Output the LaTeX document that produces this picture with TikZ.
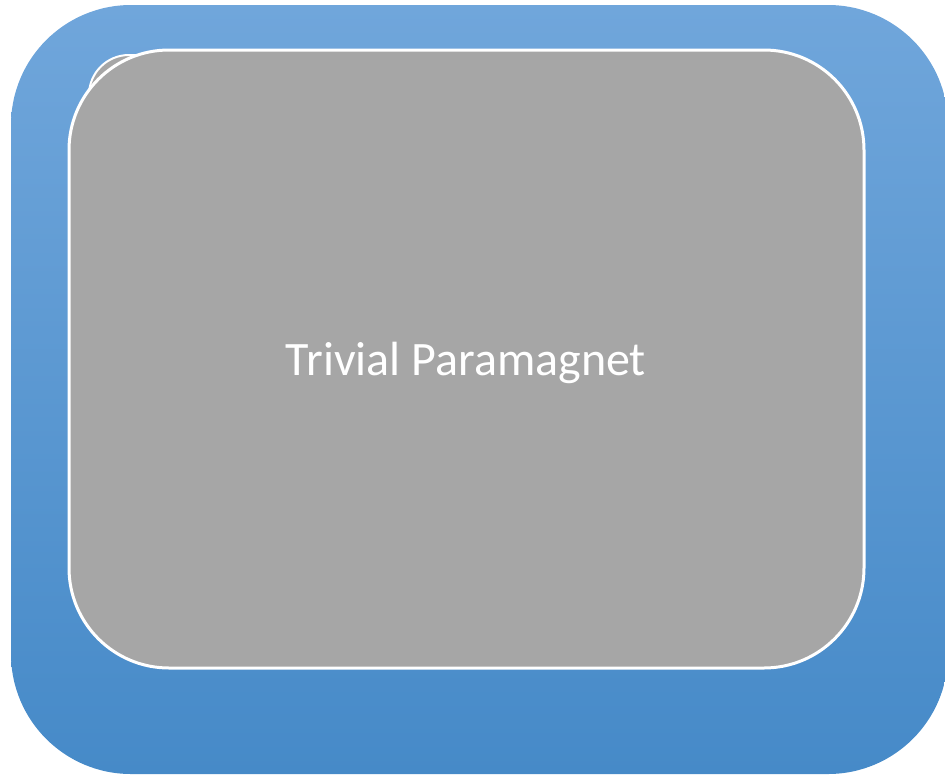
\documentclass[tikz,border=0pt]{standalone}
\usepackage{fontspec}
\setmainfont{Carlito}
\begin{document}
\begin{tikzpicture}[x=1pt,y=-1pt,
  outerbox/.style={rounded corners=120pt, top color=topblue, bottom color=botblue, draw=none},
  innerbox/.style={rounded corners=100pt, fill=boxgray, draw=white, line width=3pt},
  backbox/.style={rounded corners=40pt, fill=boxgray, draw=white, line width=2pt}]
\definecolor{topblue}{RGB}{112,166,219}
\definecolor{botblue}{RGB}{70,138,200}
\definecolor{boxgray}{RGB}{166,166,166}
\useasboundingbox (0,0) rectangle (945,777);
\begin{scope}
\clip (0,0) rectangle (945,777);
\shade[outerbox] (11,5) rectangle (948,774);
\end{scope}
\draw[backbox] (89,55) rectangle (400,400);
\draw[innerbox] (69,50) rectangle (864,668);
\node[text=white, font=\fontsize{48}{58}\selectfont] (label) at (466,363) {Trivial Paramagnet};
\end{tikzpicture}
\end{document}
